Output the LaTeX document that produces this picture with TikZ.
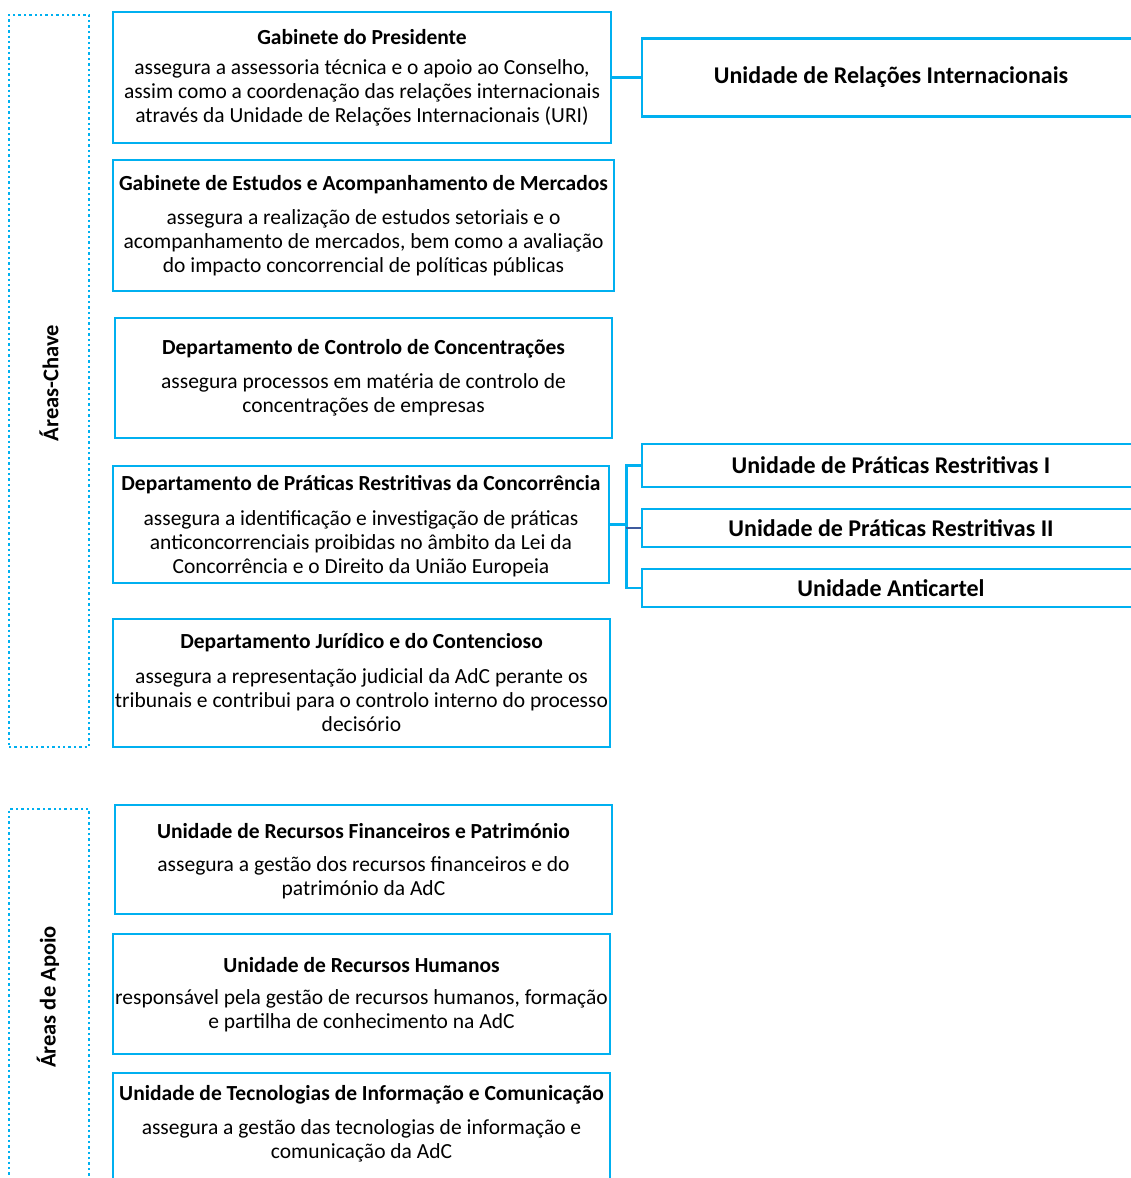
\documentclass[tikz,border=0pt]{standalone}
\usepackage{fontspec}
\setmainfont{Carlito}
\usetikzlibrary{calc}
\definecolor{cyanb}{HTML}{00B0F0}
\definecolor{darkc}{HTML}{3F5B9E}
\tikzset{
  box/.style={draw=cyanb, line width=2.8pt, inner sep=0pt, minimum width=#1},
  conn/.style={draw=cyanb, line width=2.8pt},
  area/.style={draw=cyanb, line width=2.6pt, dash pattern=on 2.4pt off 3pt, inner sep=0pt, minimum width=80pt},
  ttl/.style={font=\fontsize{21.5}{24}\selectfont\bfseries, inner sep=0pt},
  desc/.style={font=\fontsize{21.5}{24}\selectfont, align=center, inner sep=0pt, yshift=-2pt},
  rttl/.style={font=\fontsize{24}{26}\selectfont\bfseries, inner sep=0pt},
  vlab/.style={font=\fontsize{22.5}{24}\selectfont\bfseries, rotate=90, inner sep=0pt}
}
\begin{document}
\begin{tikzpicture}[x=1pt,y=-1pt]
\useasboundingbox (0,0) rectangle (1131,1178);
\clip (0,0) rectangle (1131,1178);
% left area boxes
\node[area, minimum height=732pt] (a1) at (49,381) {};
\node[area, minimum height=400pt] (a2) at (49,1009) {};
\node[vlab] (la1) at (49,383) {Áreas-Chave};
\node[vlab] (la2) at (48,997) {Áreas de Apoio};
% main boxes
\node[box=498pt, minimum height=131pt] (b1) at (362,77.5) {};
\node[ttl] (t1) at (362,37) {Gabinete do Presidente};
\node[desc] (d1) at (362,91) {assegura a assessoria técnica e o apoio ao Conselho,\\assim como a coordenação das relações internacionais\\através da Unidade de Relações Internacionais (URI)};

\node[box=501pt, minimum height=131pt] (b2) at (363.5,225.5) {};
\node[ttl] (t2) at (363.5,185) {Gabinete de Estudos e Acompanhamento de Mercados};
\node[desc] (d2) at (363.5,240.5) {assegura a realização de estudos setoriais e o\\acompanhamento de mercados, bem como a avaliação\\do impacto concorrencial de políticas públicas};

\node[box=497pt, minimum height=120pt] (b3) at (363.5,378) {};
\node[ttl] (t3) at (363.5,349) {Departamento de Controlo de Concentrações};
\node[desc] (d3) at (363.5,393) {assegura processos em matéria de controlo de\\concentrações de empresas};

\node[box=496pt, minimum height=117pt] (b4) at (361,524.5) {};
\node[ttl] (t4) at (361,485) {Departamento de Práticas Restritivas da Concorrência};
\node[desc] (d4) at (361,541.5) {assegura a identificação e investigação de práticas\\anticoncorrenciais proibidas no âmbito da Lei da\\Concorrência e o Direito da União Europeia};

\node[box=497pt, minimum height=128pt] (b5) at (361.5,683) {};
\node[ttl] (t5) at (361.5,643) {Departamento Jurídico e do Contencioso};
\node[desc] (d5) at (361.5,698.5) {assegura a representação judicial da AdC perante os\\tribunais e contribui para o controlo interno do processo\\decisório};

\node[box=497pt, minimum height=109pt] (b6) at (363.5,859.5) {};
\node[ttl] (t6) at (363.5,831) {Unidade de Recursos Financeiros e Património};
\node[desc] (d6) at (363.5,875.5) {assegura a gestão dos recursos financeiros e do\\património da AdC};

\node[box=497pt, minimum height=120pt] (b7) at (361.5,994) {};
\node[ttl] (t7) at (361.5,965) {Unidade de Recursos Humanos};
\node[desc] (d7) at (361.5,1009) {responsável pela gestão de recursos humanos, formação\\e partilha de conhecimento na AdC};

\node[box=497pt, minimum height=122pt] (b8) at (361.5,1134) {};
\node[ttl] (t8) at (361.5,1095) {Unidade de Tecnologias de Informação e Comunicação};
\node[desc] (d8) at (361.5,1139) {assegura a gestão das tecnologias de informação e\\comunicação da AdC};

% right boxes
\node[box=498pt, minimum height=78pt] (r1) at (891,77.5) {};
\node[rttl] (rt1) at (891,77) {Unidade de Relações Internacionais};
\node[box=498pt, minimum height=43pt] (r2) at (891,465.5) {};
\node[rttl] (rt2) at (891,465.5) {Unidade de Práticas Restritivas I};
\node[box=498pt, minimum height=38pt] (r3) at (891,528) {};
\node[rttl] (rt3) at (891,528) {Unidade de Práticas Restritivas II};
\node[box=498pt, minimum height=38pt] (r4) at (891,588) {};
\node[rttl] (rt4) at (891,588) {Unidade Anticartel};

% connectors
\draw[conn] (b1.east) -- (r1.west);
\coordinate (j) at ($(b4.east)+(16,0)$);
\draw[conn] (b4.east) -- (j);
\draw[conn] (r2.west) -| (j) |- (r4.west);
\draw[line width=2.6pt, draw=darkc] (j |- r3.west) -- (r3.west);
\end{tikzpicture}
\end{document}
